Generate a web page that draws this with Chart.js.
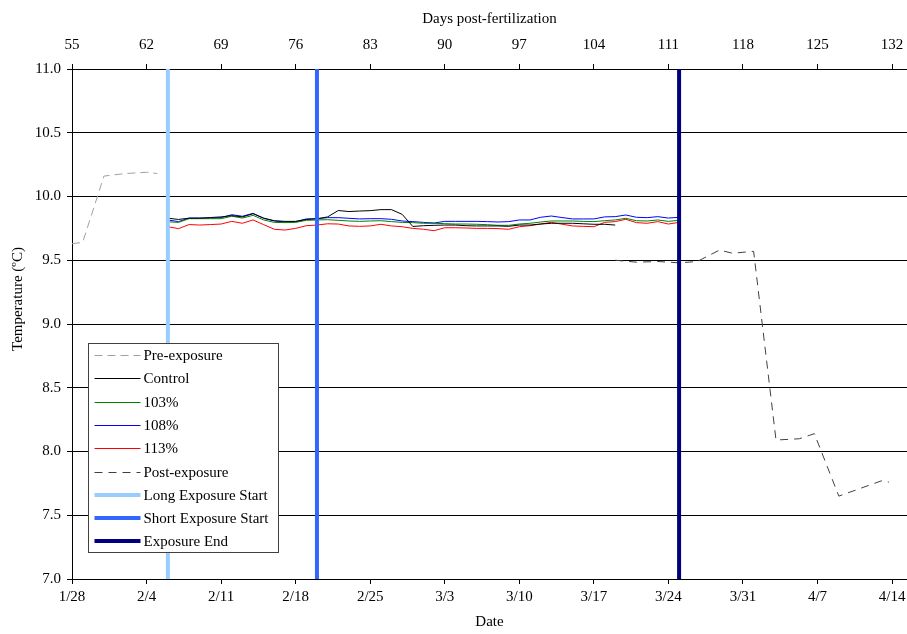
<!DOCTYPE html>
<html>
<head>
<meta charset="utf-8">
<title>Temperature by date</title>
<script src="https://cdn.jsdelivr.net/npm/chart.js@4.4.0/dist/chart.umd.min.js"></script>
<style>
    html, body { margin: 0; padding: 0; background: #fff; }
    #wrap { width: 907px; height: 634px; }
</style>
</head>
<body>
<div id="wrap"><canvas id="temp-chart" width="907" height="634"></canvas></div>
<script>
// x values are days since 1/28 (the axis runs a little past 4/14)
const dateLabels = ['1/28', '2/4', '2/11', '2/18', '2/25', '3/3', '3/10', '3/17', '3/24', '3/31', '4/7', '4/14'];
const dayLabels = ['55', '62', '69', '76', '83', '90', '97', '104', '111', '118', '125', '132'];

const preDays = [0, 1, 3, 5, 7, 8];
const preTemp = [9.63, 9.64, 10.16, 10.18, 10.19, 10.18];

const controlDays = [9, 10, 11, 12, 13, 14, 15, 16, 17, 18, 19, 20, 21, 22, 23, 24, 25, 26, 27, 28, 29, 30,
    31, 32, 33, 34, 35, 36, 37, 38, 39, 40, 41, 42, 43, 44, 45, 46, 47, 48, 49, 50, 51];
const controlTemp = [9.83, 9.82, 9.83, 9.83, 9.835, 9.84, 9.85, 9.84, 9.865, 9.83, 9.81, 9.805, 9.805, 9.82,
    9.825, 9.84, 9.89, 9.882, 9.886, 9.889, 9.897, 9.897, 9.86, 9.765, 9.771, 9.774, 9.776, 9.776, 9.771,
    9.769, 9.769, 9.769, 9.766, 9.776, 9.776, 9.784, 9.79, 9.79, 9.79, 9.786, 9.782, 9.782, 9.776];

const expDays = [9, 10, 11, 12, 13, 14, 15, 16, 17, 18, 19, 20, 21, 22, 23, 24, 25, 26, 27, 28, 29, 30,
    31, 32, 33, 34, 35, 36, 37, 38, 39, 40, 41, 42, 43, 44, 45, 46, 47, 48, 49, 50, 51, 52, 53, 54, 55, 56, 57];
const temp103 = [9.802, 9.797, 9.826, 9.826, 9.826, 9.826, 9.845, 9.831, 9.852, 9.816, 9.797, 9.795, 9.797,
    9.813, 9.816, 9.818, 9.813, 9.808, 9.805, 9.808, 9.81, 9.803, 9.797, 9.795, 9.79, 9.79, 9.787, 9.784,
    9.784, 9.782, 9.779, 9.774, 9.774, 9.784, 9.79, 9.8, 9.808, 9.808, 9.808, 9.805, 9.803, 9.81, 9.816,
    9.829, 9.81, 9.808, 9.816, 9.805, 9.813];
const temp108 = [9.816, 9.803, 9.831, 9.831, 9.831, 9.834, 9.857, 9.845, 9.868, 9.829, 9.808, 9.8, 9.803,
    9.824, 9.826, 9.834, 9.834, 9.829, 9.824, 9.826, 9.826, 9.821, 9.808, 9.803, 9.797, 9.792, 9.805, 9.805,
    9.805, 9.805, 9.803, 9.8, 9.803, 9.816, 9.816, 9.837, 9.847, 9.835, 9.824, 9.824, 9.824, 9.84, 9.842,
    9.855, 9.837, 9.834, 9.842, 9.831, 9.837];
const temp113 = [9.763, 9.748, 9.78, 9.776, 9.78, 9.784, 9.805, 9.79, 9.816, 9.779, 9.743, 9.737, 9.75,
    9.771, 9.776, 9.786, 9.784, 9.769, 9.766, 9.769, 9.782, 9.769, 9.763, 9.75, 9.743, 9.732, 9.755, 9.755,
    9.753, 9.75, 9.75, 9.748, 9.743, 9.763, 9.771, 9.784, 9.797, 9.783, 9.769, 9.766, 9.763, 9.797, 9.803,
    9.821, 9.795, 9.79, 9.803, 9.784, 9.797];

const postDays = [51, 53, 55, 57, 58.7, 60.8, 62, 64, 66.1, 68.3, 69.7, 72, 76, 76.7];
const postTemp = [9.5, 9.485, 9.49, 9.48, 9.49, 9.58, 9.555, 9.57, 8.09, 8.1, 8.14, 7.65, 7.77, 7.76];

const longStartDay = 9;
const shortStartDay = 23;
const exposureEndDay = 57;

const FONT = 'Liberation Serif, Times New Roman, serif';

function toPoints(xs, ys) {
    return xs.map((x, i) => ({ x: x, y: ys[i] }));
}

function vline(day) {
    return [{ x: day, y: 7 }, { x: day, y: 11 }];
}

function series(label, xs, ys, color, dash) {
    return {
        label: label,
        data: toPoints(xs, ys),
        borderColor: color,
        borderWidth: 1,
        borderDash: dash || [],
        pointRadius: 0,
        tension: 0,
        order: 1
    };
}

function marker(label, day, color) {
    return {
        label: label,
        data: vline(day),
        borderColor: color,
        borderWidth: 4,
        pointRadius: 0,
        order: 0
    };
}

// drop the extra room Chart.js keeps for the last tick label
function noEdgePadding(scale) {
    scale.paddingLeft = 0;
    scale.paddingRight = 0;
}

// legend drawn inside the plot area, like the original; y title sits above centre
const legendBox = {
    id: 'legendBox',
    afterDraw: function(chart) {
        const ctx = chart.ctx;
        const x = 88.5, y = 343.5, w = 190, h = 209, rowH = 23.3;
        ctx.save();
        ctx.fillStyle = '#fff';
        ctx.fillRect(x, y, w, h);
        ctx.strokeStyle = '#404040';
        ctx.lineWidth = 1;
        ctx.strokeRect(x, y, w, h);
        ctx.font = '15px ' + FONT;
        ctx.textBaseline = 'middle';
        chart.data.datasets.forEach(function(ds, i) {
            const cy = Math.round(y + 11.5 + i * rowH) + (ds.borderWidth % 2 ? 0.5 : 0);
            ctx.beginPath();
            ctx.setLineDash(ds.borderDash || []);
            ctx.strokeStyle = ds.borderColor;
            ctx.lineWidth = ds.borderWidth;
            ctx.moveTo(x + 6, cy);
            ctx.lineTo(x + 52, cy);
            ctx.stroke();
            ctx.setLineDash([]);
            ctx.fillStyle = '#000';
            ctx.fillText(ds.label, x + 55, cy + 1);
        });

        // y axis title
        ctx.translate(18, 299);
        ctx.rotate(-Math.PI / 2);
        ctx.textAlign = 'center';
        ctx.fillText('Temperature (ºC)', 0, 0);
        ctx.restore();
    }
};

const canvas = document.getElementById('temp-chart');

new Chart(canvas, {
    type: 'line',
    data: {
        datasets: [
            series('Pre-exposure', preDays, preTemp, '#a0a0a0', [8, 5]),
            series('Control', controlDays, controlTemp, '#000000'),
            series('103%', expDays, temp103, '#008000'),
            series('108%', expDays, temp108, '#0000ff'),
            series('113%', expDays, temp113, '#ff0000'),
            series('Post-exposure', postDays, postTemp, '#404040', [8, 6]),
            marker('Long Exposure Start', longStartDay, '#99ccff'),
            marker('Short Exposure Start', shortStartDay, '#3366ff'),
            marker('Exposure End', exposureEndDay, '#000080')
        ]
    },
    options: {
        responsive: false,
        animation: false,
        layout: { padding: { top: 0, right: 0, bottom: 0, left: 0 } },
        plugins: {
            legend: { display: false },
            tooltip: { enabled: false }
        },
        scales: {
            x: {
                type: 'linear',
                position: 'bottom',
                min: 0,
                max: 78.4,
                afterBuildTicks: function(scale) {
                    scale.ticks = dateLabels.map((t, i) => ({ value: i * 7 }));
                },
                ticks: {
                    padding: 4,
                    color: '#000',
                    font: { family: FONT, size: 15 },
                    maxRotation: 0,
                    autoSkip: false,
                    callback: function(value, index) { return dateLabels[index]; }
                },
                grid: { drawOnChartArea: false, color: '#000', tickLength: 5 },
                border: { display: true, color: '#000' },
                title: {
                    display: true,
                    text: 'Date',
                    color: '#000',
                    font: { family: FONT, size: 15 },
                    padding: { top: 0, bottom: 3 }
                },
                afterFit: function(scale) {
                    scale.height = 55;
                    noEdgePadding(scale);
                }
            },
            x2: {
                type: 'linear',
                position: 'top',
                min: 0,
                max: 78.4,
                afterBuildTicks: function(scale) {
                    scale.ticks = dayLabels.map((t, i) => ({ value: i * 7 }));
                },
                ticks: {
                    padding: 10,
                    color: '#000',
                    font: { family: FONT, size: 15 },
                    maxRotation: 0,
                    autoSkip: false,
                    callback: function(value, index) { return dayLabels[index]; }
                },
                grid: { drawOnChartArea: false, color: '#000', tickLength: 5 },
                border: { display: false },
                title: {
                    display: true,
                    text: 'Days post-fertilization',
                    color: '#000',
                    font: { family: FONT, size: 15 },
                    padding: { top: 10, bottom: 0 }
                },
                afterFit: function(scale) {
                    scale.height = 69;
                    noEdgePadding(scale);
                }
            },
            y: {
                min: 7,
                max: 11,
                ticks: {
                    stepSize: 0.5,
                    padding: 6,
                    color: '#000',
                    font: { family: FONT, size: 15 },
                    callback: function(value) { return value.toFixed(1); }
                },
                grid: { color: '#000', tickLength: 5 },
                border: { display: true, color: '#000' },
                afterFit: function(scale) { scale.width = 72; }
            }
        }
    },
    plugins: [legendBox]
});
</script>
</body>
</html>
